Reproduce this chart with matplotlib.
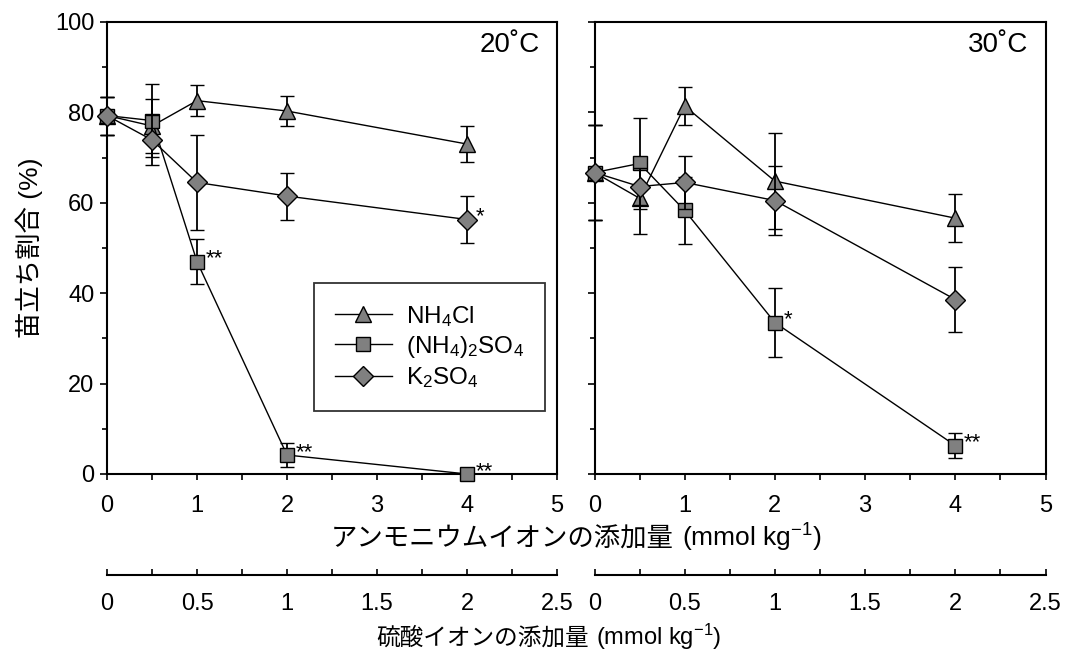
import matplotlib
matplotlib.use("Agg")
import matplotlib.pyplot as plt
from matplotlib.lines import Line2D
from matplotlib.ticker import MultipleLocator, FixedLocator

plt.rcParams['font.family'] = ['Liberation Sans', 'Noto Sans CJK JP', 'DejaVu Sans']
plt.rcParams['mathtext.default'] = 'regular'
plt.rcParams['mathtext.fontset'] = 'custom'
plt.rcParams['mathtext.rm'] = 'Liberation Sans'
plt.rcParams['axes.unicode_minus'] = False

# Ammonium-ion dose (mmol/kg)
conc = [0, 0.5, 1, 2, 4]

# Emergence rate (%) at 20 °C
nh4cl_20 = [79.3, 77.0, 82.6, 80.3, 73.0]
nh4cl_20_err = [4.2, 6.0, 3.4, 3.3, 3.9]
nh42so4_20 = [79.3, 78.2, 47.0, 4.2, 0.0]
nh42so4_20_err = [4.2, 8.1, 5.0, 2.7, 0.0]
k2so4_20 = [79.3, 73.9, 64.5, 61.5, 56.3]
k2so4_20_err = [4.2, 5.5, 10.5, 5.2, 5.1]

# Emergence rate (%) at 30 °C
nh4cl_30 = [66.7, 61.0, 81.4, 64.8, 56.6]
nh4cl_30_err = [10.5, 8.0, 4.2, 10.7, 5.3]
nh42so4_30 = [66.7, 68.7, 58.3, 33.5, 6.3]
nh42so4_30_err = [10.5, 10.0, 7.5, 7.6, 2.7]
k2so4_30 = [66.7, 63.6, 64.5, 60.5, 38.6]
k2so4_30_err = [10.5, 4.0, 5.9, 7.6, 7.2]

# Significance marks: (series, dose index, label)
sig_20 = [("nh42so4", 2, "**"), ("nh42so4", 3, "**"), ("nh42so4", 4, "**"), ("k2so4", 4, "*")]
sig_30 = [("nh42so4", 3, "*"), ("nh42so4", 4, "**")]

series_labels = ["NH$_4$Cl", "(NH$_4$)$_2$SO$_4$", "K$_2$SO$_4$"]
temp_labels = ["20˚C", "30˚C"]
x_ticks_nh4 = [0, 1, 2, 3, 4, 5]
x_ticks_so4 = [0, 0.5, 1, 1.5, 2, 2.5]
y_ticks = [0, 20, 40, 60, 80, 100]

FS = 17
W, H = 1067, 653
fig = plt.figure(figsize=(W / 100, H / 100), dpi=100)
renderer = fig.canvas.get_renderer()

def fx(px):
    return px / W

def fy(py):
    return 1 - py / H

ax_l = fig.add_axes([fx(107), fy(474), fx(557 - 107), (474 - 22) / H])
ax_r = fig.add_axes([fx(594.5), fy(474), fx(1045.5 - 594.5), (474 - 22) / H])

markers = ['^', 's', 'D']
msizes = [12, 10, 10]
face = '#808080'

panels = [
    (ax_l, [nh4cl_20, nh42so4_20, k2so4_20], [nh4cl_20_err, nh42so4_20_err, k2so4_20_err], sig_20),
    (ax_r, [nh4cl_30, nh42so4_30, k2so4_30], [nh4cl_30_err, nh42so4_30_err, k2so4_30_err], sig_30),
]
keys = {"nh4cl": 0, "nh42so4": 1, "k2so4": 2}

for i, (ax, vals, errs, sigs) in enumerate(panels):
    for j, (v, e) in enumerate(zip(vals, errs)):
        ax.errorbar(conc, v, yerr=e, marker=markers[j], ms=msizes[j],
                    mfc=face, mec='black', mew=1.0, color='black',
                    lw=1.0, ecolor='black', elinewidth=1.3, capsize=5,
                    capthick=1.3, zorder=3 + j, clip_on=False)
    for name, idx, lab in sigs:
        v = vals[keys[name]]
        ax.annotate(lab, (conc[idx], v[idx]), xytext=(6, 2), textcoords='offset points',
                    ha='left', va='center', fontsize=16, zorder=10)
    ax.set_xlim(0, 5)
    ax.set_ylim(0, 100)
    ax.xaxis.set_major_locator(FixedLocator(x_ticks_nh4))
    ax.xaxis.set_minor_locator(MultipleLocator(0.5))
    ax.yaxis.set_major_locator(FixedLocator(y_ticks))
    ax.yaxis.set_minor_locator(MultipleLocator(10))
    ax.tick_params(axis='both', which='both', direction='out', labelsize=FS, width=1.2)
    ax.tick_params(axis='x', which='both', length=4, pad=11)
    ax.tick_params(axis='y', which='major', length=5, pad=4)
    ax.tick_params(axis='y', which='minor', length=3.5)
    for s in ax.spines.values():
        s.set_linewidth(1.5)
    ax.text(0.962, 0.978, temp_labels[i], transform=ax.transAxes, ha='right', va='top',
            fontsize=20)
    if i == 0:
        ax.set_ylabel("苗立ち割合 (%)", fontsize=19, labelpad=9)
        handles = [Line2D([], [], color='black', lw=1.0, marker=m, ms=s, mfc=face,
                          mec='black', mew=1.0) for m, s in zip(markers, msizes)]
        leg = ax.legend(handles, series_labels, loc='upper left',
                        bbox_to_anchor=((314 - 107) / 450, (474 - 283) / 452),
                        fontsize=17.5, frameon=True, fancybox=False, edgecolor='black',
                        borderpad=0.85, handlelength=2.35, labelspacing=0.22,
                        handletextpad=0.6, borderaxespad=0)
        leg.get_frame().set_linewidth(1.3)
    else:
        ax.tick_params(axis='y', which='both', labelleft=False)

# Secondary scales for sulfate-ion dose
for x0, x1 in [(107, 557), (594.5, 1045.5)]:
    sa = fig.add_axes([fx(x0), fy(575), fx(x1 - x0), 0.001])
    sa.set_facecolor('none')
    for k in ['top', 'left', 'right']:
        sa.spines[k].set_visible(False)
    sa.spines['bottom'].set_linewidth(1.5)
    sa.set_xlim(0, 2.5)
    sa.set_yticks([])
    sa.xaxis.set_major_locator(FixedLocator(x_ticks_so4))
    sa.xaxis.set_minor_locator(MultipleLocator(0.25))
    sa.set_xticklabels([f"{t:g}" for t in x_ticks_so4])
    sa.tick_params(axis='x', which='both', direction='in', length=4, width=1.2,
                   labelsize=FS, pad=13)


def axis_title(cx, baseline_py, jp, unit, size):
    """Japanese words followed by a unit with a superscript, set on one baseline."""
    t1 = fig.text(0, fy(baseline_py), jp, ha='left', va='baseline', fontsize=size,
                  family=['Noto Sans CJK JP', 'DejaVu Sans'])
    t2 = fig.text(0, fy(baseline_py), unit, ha='left', va='baseline', fontsize=size)
    w1 = t1.get_window_extent(renderer).width
    w2 = t2.get_window_extent(renderer).width
    gap = 0.3 * size * 100 / 72
    start = cx - (w1 + gap + w2) / 2
    t1.set_x(fx(start))
    t2.set_x(fx(start + w1 + gap))


axis_title(576, 547, "アンモニウムイオンの添加量", "(mmol kg$^{-1}$)", 19)
axis_title(549, 645, "硫酸イオンの添加量", "(mmol kg$^{-1}$)", 17)

fig.savefig("out.png", dpi=100)
